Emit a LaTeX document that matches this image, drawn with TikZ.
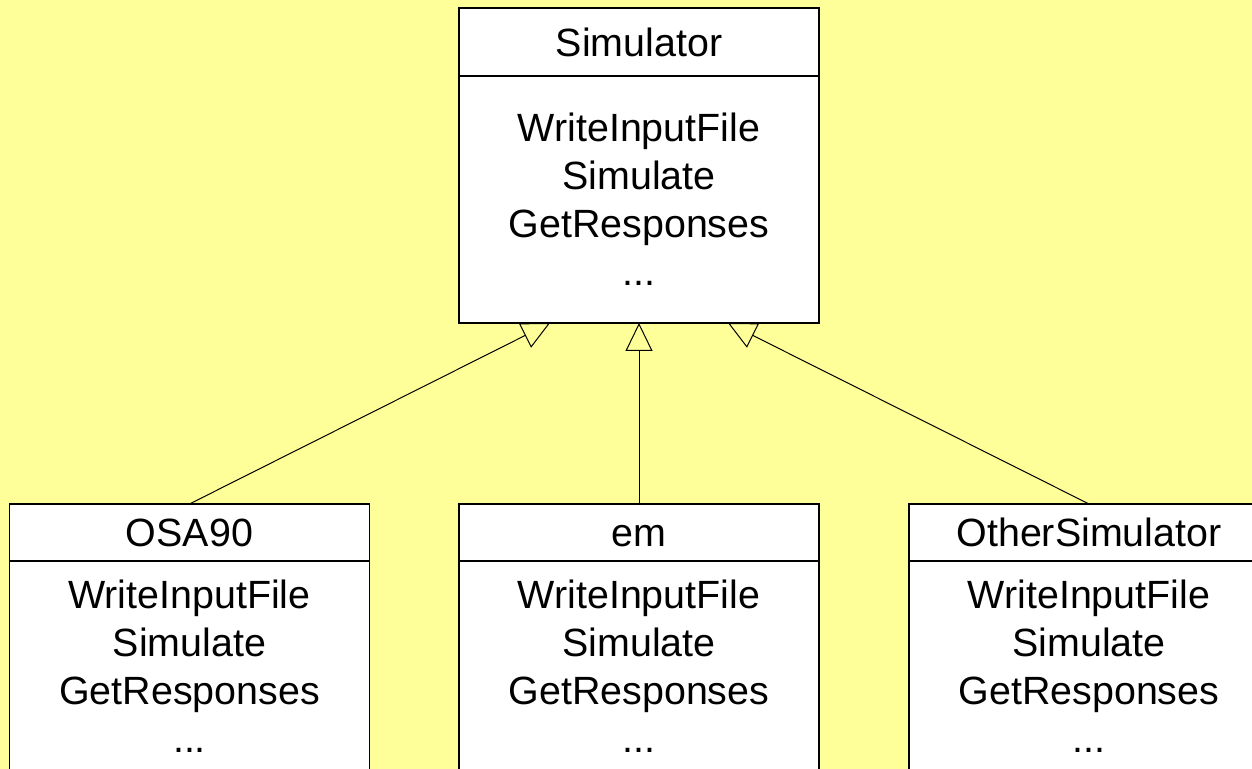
\documentclass[tikz,border=0pt]{standalone}
\usepackage{fontspec}
\setmainfont{Liberation Sans}
\usetikzlibrary{arrows.meta,positioning}
\definecolor{bgyellow}{HTML}{FFFF99}

\begin{document}
\begin{tikzpicture}[x=0.5pt, y=0.5pt,
		classname/.style={draw, fill=white, line width=0.6pt, minimum width=180pt, inner sep=0pt, outer sep=0pt, text height=14.2pt, text depth=0pt, font=\fontsize{19.7pt}{24pt}\selectfont},
		classops/.style={draw, fill=white, line width=0.6pt, minimum width=180pt, inner sep=0pt, outer sep=0pt, align=center, font=\fontsize{19.7pt}{24pt}\selectfont},
		inherit/.style={line width=0.5pt, -{Triangle[open, length=14pt, width=13.5pt, line width=0.5pt]}}]
	% Background and frame
	\fill[bgyellow] (0,0) rectangle (1252,769);
	\clip (0,0) rectangle (1252,769);

	% Base class
	\node[classname, minimum height=34pt] (sim) at (639,727) {Simulator};
	\node[classops, minimum height=123.5pt, below=0pt of sim] (simops) {WriteInputFile\\Simulate\\GetResponses\\...};

	% Derived classes
	\node[classname, minimum height=28.5pt] (osa) at (189.5,236.5) {OSA90};
	\node[classops, minimum height=105pt, below=0pt of osa] (osaops) {WriteInputFile\\Simulate\\GetResponses\\...};

	\node[classname, minimum height=28.5pt] (em) at (639,236.5) {em};
	\node[classops, minimum height=105pt, below=0pt of em] (emops) {WriteInputFile\\Simulate\\GetResponses\\...};

	\node[classname, minimum height=28.5pt] (other) at (1089,236.5) {OtherSimulator};
	\node[classops, minimum height=105pt, below=0pt of other] (otherops) {WriteInputFile\\Simulate\\GetResponses\\...};

	% Inheritance
	\draw[inherit] (osa.north) -- ([xshift=-44.5pt]simops.south);
	\draw[inherit] (em.north) -- (simops.south);
	\draw[inherit] (other.north) -- ([xshift=44.5pt]simops.south);
\end{tikzpicture}
\end{document}
